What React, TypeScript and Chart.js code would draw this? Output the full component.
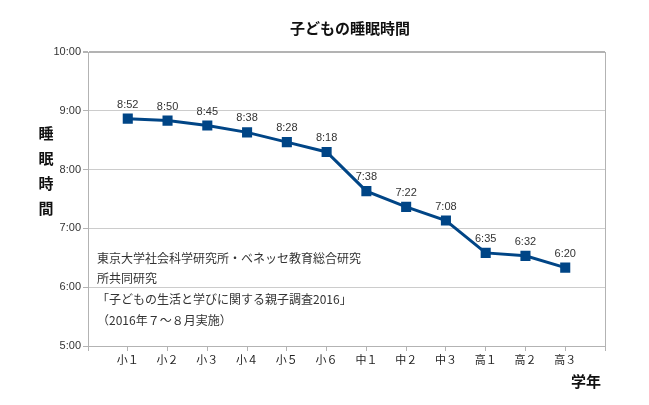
import React, { useEffect, useRef } from "react";
import { Chart, registerables } from "chart.js";

Chart.register(...registerables);

const grades = ["小１", "小２", "小３", "小４", "小５", "小６", "中１", "中２", "中３", "高１", "高２", "高３"];
const sleepLabels = ["8:52", "8:50", "8:45", "8:38", "8:28", "8:18", "7:38", "7:22", "7:08", "6:35", "6:32", "6:20"];
const yTicks = [5, 6, 7, 8, 9, 10];
const chartTitle = "子どもの睡眠時間";
const yTitle = ["睡", "眠", "時", "間"];
const xTitle = "学年";
const noteLines = [
  "東京大学社会科学研究所・ベネッセ教育総合研究",
  "所共同研究",
  "「子どもの生活と学びに関する親子調査2016」",
  "（2016年７～８月実施）",
];

const toHours = (s: string) => {
  const [h, m] = s.split(":").map(Number);
  return h + m / 60;
};

const FONT = "'Liberation Sans', 'Noto Sans CJK JP', sans-serif";
const JFONT = "'Noto Sans CJK JP', 'Liberation Sans', sans-serif";

const overlay = {
  id: "overlay",
  afterDatasetsDraw(chart: any) {
    const ctx = chart.ctx;
    const meta = chart.getDatasetMeta(0);
    ctx.save();
    ctx.fillStyle = "#333333";
    ctx.font = `11px ${FONT}`;
    ctx.textAlign = "center";
    ctx.textBaseline = "middle";
    meta.data.forEach((pt: any, i: number) => {
      ctx.fillText(sleepLabels[i], pt.x, pt.y - 14);
    });
    ctx.restore();
  },
  afterDraw(chart: any) {
    const ctx = chart.ctx;
    const area = chart.chartArea;
    ctx.save();
    ctx.fillStyle = "#111111";
    ctx.textAlign = "center";
    ctx.textBaseline = "middle";
    ctx.font = `bold 15px ${JFONT}`;
    ctx.fillText(chartTitle, 350, 28);
    yTitle.forEach((c, i) => ctx.fillText(c, 46, 133 + i * 25));
    ctx.fillText(xTitle, 586, 381);
    ctx.font = `12px ${JFONT}`;
    ctx.fillStyle = "#333333";
    ctx.textAlign = "left";
    noteLines.forEach((l, i) => ctx.fillText(l, area.left + 9, 258 + i * 20.7));
    ctx.restore();
  },
};

export default function App() {
  const ref = useRef<HTMLCanvasElement | null>(null);
  useEffect(() => {
    document.body.style.margin = "0";
    const canvas = ref.current;
    if (!canvas) return;
    const data = sleepLabels.map((s, i) => ({ x: i + 1, y: toHours(s) }));
    const chart = new Chart(canvas, {
      type: "line",
      data: {
        datasets: [
          {
            data,
            borderColor: "#004586",
            backgroundColor: "#004586",
            borderWidth: 3,
            pointStyle: "rect",
            pointRadius: 5,
            pointBackgroundColor: "#004586",
            pointBorderColor: "#004586",
            tension: 0,
          },
        ],
      },
      options: {
        animation: false,
        responsive: true,
        maintainAspectRatio: false,
        layout: { padding: { left: 0, top: 52, right: 44, bottom: 0 } },
        plugins: { legend: { display: false }, title: { display: false }, tooltip: { enabled: false } },
        scales: {
          x: {
            type: "linear",
            min: 0,
            max: 13,
            afterFit: (s: any) => {
              s.height = 59;
            },
            afterBuildTicks: (s: any) => {
              s.ticks = Array.from({ length: 14 }, (_, i) => ({ value: i }));
            },
            ticks: {
              autoSkip: false,
              maxRotation: 0,
              color: "#222222",
              font: { size: 11, family: JFONT },
              padding: 2,
              callback: (v: any) => (v >= 1 && v <= 12 ? grades[v - 1] : ""),
            },
            grid: {
              color: (c: any) => (c.index === 13 ? "#b3b3b3" : "rgba(0,0,0,0)"),
              tickColor: "#b3b3b3",
              tickLength: 5,
              lineWidth: 1,
            },
            border: { color: "#b3b3b3", width: 1 },
          },
          y: {
            min: 5,
            max: 10,
            afterFit: (s: any) => {
              s.width = 88;
            },
            afterBuildTicks: (s: any) => {
              s.ticks = yTicks.map((v) => ({ value: v }));
            },
            ticks: {
              color: "#333333",
              font: { size: 11, family: FONT },
              padding: 2,
              callback: (v: any) => `${v}:00`,
            },
            grid: {
              color: (c: any) => (c.index === yTicks.length - 1 ? "#b3b3b3" : "#cccccc"),
              lineWidth: (c: any) => (c.index === yTicks.length - 1 ? 2 : 1),
              tickColor: "#b3b3b3",
              tickLength: 5,
            },
            border: { color: "#b3b3b3", width: 1 },
          },
        },
      },
      plugins: [overlay],
    });
    return () => chart.destroy();
  }, []);
  return (
    <div style={{ width: 649, height: 405, position: "relative" }}>
      <canvas ref={ref} />
    </div>
  );
}
